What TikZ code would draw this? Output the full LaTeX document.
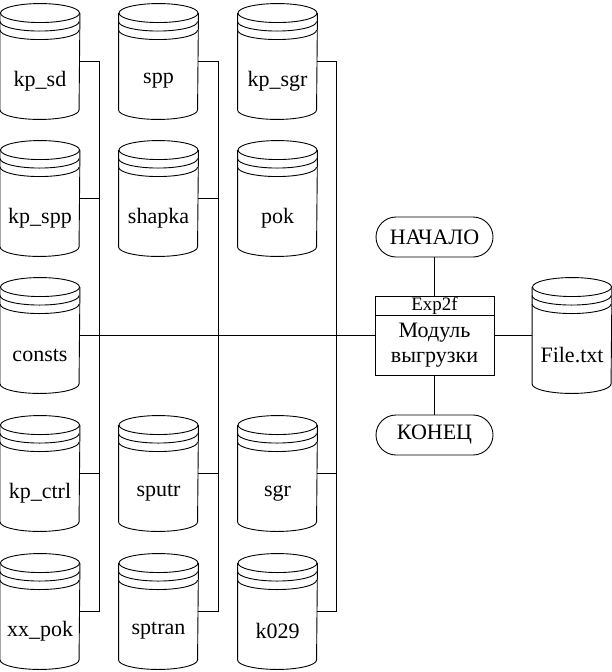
\documentclass[tikz,border=0pt]{standalone}
\usepackage{fontspec}
\setmainfont{Liberation Serif}
\newfontfamily\dbfont{Liberation Serif}
\begin{document}
\begin{tikzpicture}[x=1pt,y=1pt,line width=0.9pt,
	dbbox/.style={minimum width=79pt,minimum height=115pt,inner sep=0pt},
	dbtext/.style={font=\dbfont\fontsize{22}{24}\selectfont},
	term/.style={draw,rounded corners=20pt,minimum width=117pt,minimum height=40pt,inner sep=0pt,font=\dbfont\fontsize{22}{24}\selectfont}]
		\useasboundingbox (0,0) rectangle (612,-672);
		\def\ry{9.5} % высота эллипса крышки
		\def\dbfile#1#2#3{%
			\node[dbbox] (#1) at (#2) {};
			\draw ([yshift=-\ry]#1.north) ellipse (39.5 and \ry);
			\draw ([yshift=-\ry]#1.north west) -- ([yshift=\ry]#1.south west) arc (180:360:39.5 and \ry) -- ([yshift=-\ry]#1.north east);
			\draw ([yshift=-\ry-8.5]#1.north west) arc (180:360:39.5 and \ry);
			\draw ([yshift=-\ry-17]#1.north west) arc (180:360:39.5 and \ry);
			\node[dbtext] (#1-t) at ([yshift=-19.5]#1.center) {#3};}
		\dbfile{kpsd}{40,-61.5}{kp\_sd}
		\dbfile{kpspp}{40,-198.5}{kp\_spp}
		\dbfile{consts}{40,-335.5}{consts}
		\dbfile{kpctrl}{40,-473.5}{kp\_ctrl}
		\dbfile{xxpok}{40,-611.5}{xx\_pok}
		\dbfile{spp}{158.5,-61.5}{spp}
		\dbfile{shapka}{158.5,-198.5}{shapka}
		\dbfile{sputr}{158.5,-473.5}{sputr}
		\dbfile{sptran}{158.5,-611.5}{sptran}
		\dbfile{kpsgr}{277.5,-61.5}{kp\_sgr}
		\dbfile{pok}{277.5,-198.5}{pok}
		\dbfile{sgr}{277.5,-473.5}{sgr}
		\dbfile{k029}{277.5,-611.5}{k029}
		\dbfile{file}{572,-335.5}{File.txt}
		\node[draw,minimum width=119pt,minimum height=79pt,inner sep=0pt] (module) at (434.5,-335.5) {};
		\node[draw,minimum width=119pt,minimum height=19pt,inner sep=0pt,anchor=north,font=\dbfont\fontsize{19}{19}\selectfont] (exphead) at (module.north) {Exp2f};
		\node[align=center,font=\dbfont\fontsize{22}{25}\selectfont] (modtext) at ([yshift=-9.5]module.center) {Модуль\\выгрузки};
		\node[term] (start) at (434.5,-237) {НАЧАЛО};
		\node[term] (finish) at (434.5,-435) {КОНЕЦ};
		% шины
		\draw (kpsd.east) -- ++(19.5,0) |- (xxpok.east);
		\draw (kpspp.east) -- ++(19.5,0);
		\draw (kpctrl.east) -- ++(19.5,0);
		\draw (spp.east) -- ++(20,0) |- (sptran.east);
		\draw (shapka.east) -- ++(20,0);
		\draw (sputr.east) -- ++(20,0);
		\draw (kpsgr.east) -- ++(18.5,0) |- (k029.east);
		\draw (sgr.east) -- ++(18.5,0);
		\draw (consts.east) -- (module.west);
		\draw (module.east) -- (file.west);
		\draw (start) -- (exphead);
		\draw (module) -- (finish);
\end{tikzpicture}
\end{document}
